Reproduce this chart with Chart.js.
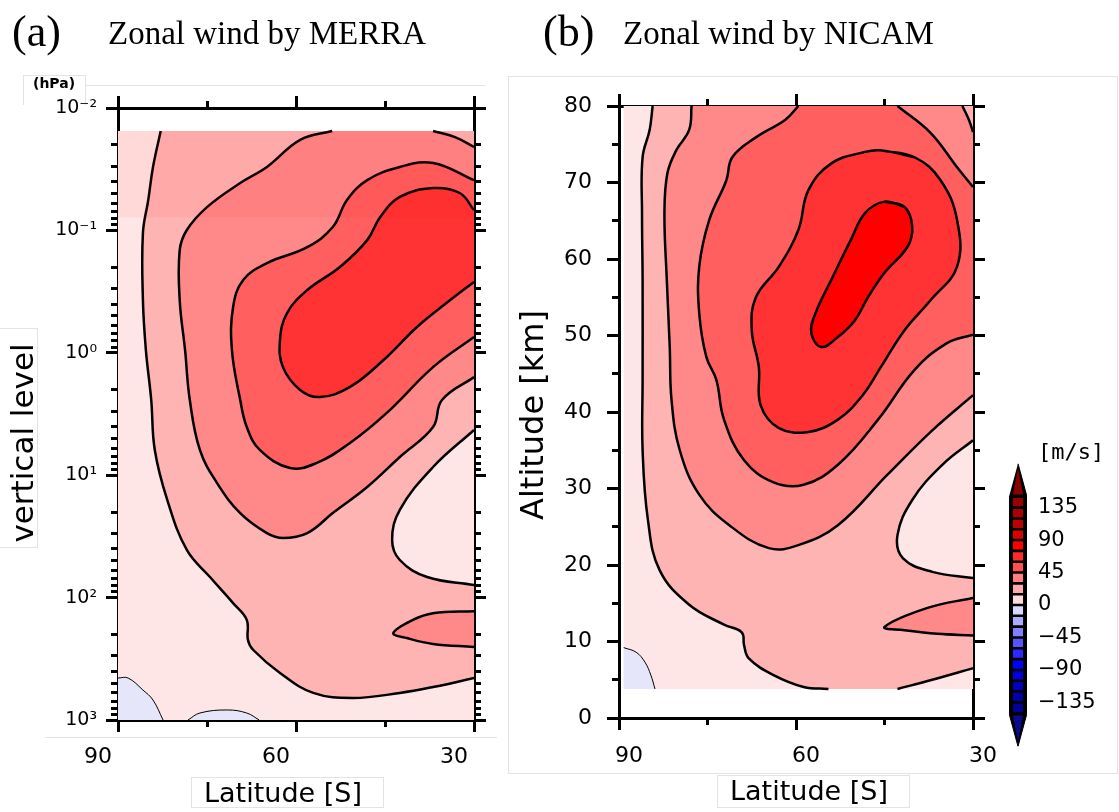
<!DOCTYPE html>
<html>
<head>
<meta charset="utf-8">
<script src="https://cdn.jsdelivr.net/npm/chart.js@4.4.0/dist/chart.umd.min.js"></script>
<style>
  body { margin: 0; background: #fff; }
  #page { position: relative; width: 1119px; height: 812px; overflow: hidden; background: #fff; }
  #page canvas, .t, .box { position: absolute; }
  .box { border: 1px solid #e3e3e3; box-sizing: border-box; }
  .t { color: #000; white-space: nowrap; }
  .serif { font-family: "Liberation Serif", serif; line-height: 1; }
  .sans { font-family: "DejaVu Sans", sans-serif; text-align: center; }
  .rot { transform: rotate(-90deg); }
</style>
</head>
<body>
<div id="page">
  <!-- faint frames left over from the figure collage -->
  <div class="box" style="left:508px;top:76px;width:610px;height:698px"></div>
  <div class="box" style="left:23px;top:75px;width:63px;height:30px;border-bottom:none"></div>
  <div class="box" style="left:85px;top:85px;width:400px;height:1px;border-width:1px 0 0 0"></div>
  <div class="box" style="left:-2px;top:328px;width:40px;height:220px"></div>
  <div class="box" style="left:45px;top:737px;width:452px;height:1px;border-width:1px 0 0 0"></div>
  <div class="box" style="left:191px;top:777px;width:193px;height:31px"></div>
  <div class="box" style="left:717px;top:775px;width:193px;height:33px"></div>

  <canvas id="merra" width="500" height="812" style="left:0;top:0"></canvas>
  <canvas id="nicam" width="500" height="812" style="left:500px;top:0"></canvas>
  <canvas id="cbar" width="119" height="330" style="left:1000px;top:440px"></canvas>

  <div class="t serif" style="left:12px;top:10px;font-size:44px">(a)</div>
  <div class="t serif" style="left:108px;top:17px;font-size:33px">Zonal wind by MERRA</div>
  <div class="t serif" style="left:543px;top:10px;font-size:44px">(b)</div>
  <div class="t serif" style="left:623px;top:17px;font-size:33px">Zonal wind by NICAM</div>
  <div class="t" style="left:33px;top:76px;font:bold 14px 'DejaVu Sans';line-height:14px">(hPa)</div>
  <div class="t sans rot" style="left:-108px;top:425px;width:260px;height:36px;line-height:36px;font-size:31px">vertical level</div>
  <div class="t sans rot" style="left:402px;top:397px;width:260px;height:36px;line-height:36px;font-size:32px">Altitude [km]</div>
  <div class="t sans" style="left:183px;top:777px;width:200px;line-height:32px;font-size:27px">Latitude [S]</div>
  <div class="t sans" style="left:709px;top:775px;width:200px;line-height:32px;font-size:27px">Latitude [S]</div>
  <div class="t" style="left:1038px;top:441px;font:22px 'DejaVu Sans Mono';line-height:22px">[m/s]</div>
</div>

<script>
// ---------- axes ----------
var latTicks = [90, 60, 30];
var latMinorTicks = [75, 45];
var latLabels = ['90', '60', '30'];

var presTicks = [0.01, 0.1, 1, 10, 100, 1000];
var presLabels = ['10⁻²', '10⁻¹', '10⁰', '10¹', '10²', '10³'];
var presMinorTicks = [];
presTicks.slice(0, -1).forEach(function (d) {
    for (var k = 2; k <= 9; k++) presMinorTicks.push(d * k);
});

var altTicks = [0, 10, 20, 30, 40, 50, 60, 70, 80];
var altMinorTicks = [5, 15, 25, 35, 45, 55, 65, 75];
var altLabels = ['0', '10', '20', '30', '40', '50', '60', '70', '80'];

// ---------- colour scale ----------
var windColors = ['#ffe6e6', '#ffb4b4', '#ff8888', '#ff5f5f', '#ff3333', '#ff0000'];
var negColor = '#e6e6fa';
var cbLevels = [-150, -135, -120, -105, -90, -75, -60, -45, -30, -15, 0, 15, 30, 45, 60, 75, 90, 105, 120, 135, 150];
var cbColors = ['#000099', '#0000aa', '#0000bb', '#0000dd', '#0000ff', '#2a2aff', '#5555ff', '#8080ff', '#aaaaff', '#d8d8ff',
                '#ffdcdc', '#ffaaaa', '#ff8080', '#ff5050', '#ff2a2a', '#ff0000', '#dd0000', '#bb0000', '#aa0000', '#990000'];
var cbTicks = [-135, -90, -45, 0, 45, 90, 135];
var cbLabels = ['−135', '−90', '−45', '0', '45', '90', '135'];
var cbEndColors = ['#0a0a90', '#8b0000'];

// ---------- MERRA contours [latitude S, hPa] ----------
var merraTop = 0.0154, merraBottom = 1000, merraBand = 0.078;
var merra15 = [[82.8, 0.0154], [84.1, 0.0303], [84.9, 0.0565], [85.8, 0.105], [85.8, 0.371], [85.3, 0.95], [84.4, 2.43],
               [83.8, 6.22], [81.7, 15.9], [78.4, 40.8], [74.5, 67.9], [70.6, 111], [68.3, 152], [68.1, 222], [67.2, 268],
               [62.7, 413], [57.1, 601], [50.4, 661], [42.5, 601], [36.9, 538], [30, 454]];
var merraHole15 = [[30, 4.27], [36.9, 8.57], [42.5, 19.2], [43.8, 33.8], [42.5, 49.3], [37.9, 67.9], [30, 78.9]];
var merraTongue30 = [[30, 129], [36.9, 134], [40.3, 152], [43.6, 195], [41.3, 214], [36.9, 239], [30, 253]];
var merra30 = [[53.9, 0.0154], [59.3, 0.0182], [64.9, 0.0303], [69.4, 0.041], [75.0, 0.0645], [78.4, 0.0993], [79.6, 0.145],
               [79.6, 0.371], [78.7, 0.948], [77.9, 2.43], [76.2, 6.22], [73.3, 11.6], [69.4, 20.4], [64.9, 29.7], [62.2, 32.6],
               [58.1, 29.7], [53.8, 20.4], [48.0, 12.5], [42.5, 7.1], [36.9, 4.04], [35.4, 2.43], [30, 1.58]];
var merra30Corner = [[36.9, 0.0154], [33.2, 0.0173], [30, 0.0208]];
var merra45 = [[30, 0.0388], [36.9, 0.0281], [42.5, 0.0303], [48.0, 0.0388], [51.4, 0.0565], [53.8, 0.0938], [58.1, 0.137],
               [64.9, 0.185], [68.9, 0.254], [70.6, 0.423], [70.8, 0.948], [69.4, 2.43], [68.3, 4.04], [66.1, 6.22], [61.0, 8.73],
               [56.5, 7.94], [50.9, 5.46], [44.7, 3.1], [36.9, 1.31], [30, 0.743]];
var merra60 = [[30, 0.0682], [32.4, 0.0495], [36.9, 0.0451], [42.5, 0.0533], [45.8, 0.0778], [48.0, 0.12], [52.6, 0.199],
               [58.1, 0.307], [61.5, 0.473], [62.7, 0.786], [62.2, 1.31], [59.3, 2.01], [56.0, 2.3], [50.9, 1.9], [45.3, 1.15],
               [39.6, 0.615], [34.0, 0.371], [30, 0.264]];
var merraNeg1 = [[90, 454], [88.3, 454], [85.8, 569], [84.1, 687], [82.4, 1000]];
var merraNeg2 = [[78.2, 1000], [76.2, 877], [71.6, 828], [68.3, 877], [66.2, 1000]];

// ---------- NICAM contours [latitude S, km] ----------
var nicamWest = 89.2, nicamTop = 80, nicamBottom = 3.8;
var nicam15 = [[84.3, 80], [84.8, 76.9], [86.0, 73.3], [86.1, 66.0], [86.0, 57.3], [86.0, 44.2], [86.0, 35.0], [85.1, 25.9],
               [83.1, 19.3], [78.1, 14.8], [72.2, 12.2], [69.2, 11.2], [68.8, 9.5], [68.0, 7.8], [63.8, 5.6], [58.7, 4.05], [54.5, 3.8]];
var nicam15East = [[42.8, 3.8], [36.9, 5.0], [30, 6.5]];
var nicamHole15 = [[30, 36.3], [35.2, 33.1], [40.3, 28.5], [42.8, 23.9], [41.9, 20.9], [36.9, 19.1], [30, 18.3]];
var nicamTongue30 = [[30, 15.7], [37.7, 14.4], [45.0, 11.9], [41.9, 11.5], [36.1, 11.0], [30, 10.8]];
var nicam30 = [[77.7, 80], [78.1, 76.9], [80.3, 74.2], [81.8, 71.2], [82.3, 66.0], [81.9, 57.3], [81.4, 48.5], [81.1, 41.6],
               [79.7, 35.0], [76.4, 29.2], [71.3, 25.2], [64.6, 22.2], [59.6, 22.6], [52.9, 25.2], [44.5, 31.8], [36.9, 37.6], [30, 42.2]];
var nicam30Corner = [[31.8, 80], [30.7, 78.2], [30, 76.6]];
var nicam45 = [[59.6, 80], [61.8, 78.2], [66.8, 75.9], [70.8, 73.3], [71.8, 70.3], [74.7, 65.1], [76.4, 59.0], [76.4, 52.9],
               [75.2, 47.2], [73.5, 44.2], [72.2, 39.0], [68.8, 33.7], [63.8, 30.8], [58.7, 30.5], [52.9, 33.1], [46.1, 39.0],
               [39.9, 45.5], [34.4, 49.0], [30, 50.1]];
var nicam45Corner = [[42.8, 80], [37.2, 76.5], [32.7, 72.0], [30, 69.4]];
var nicam60 = [[45.6, 74.2], [39.9, 73.3], [35.5, 70.3], [32.7, 65.1], [32.7, 59.0], [37.2, 54.6], [41.6, 50.7], [45.6, 45.9],
               [48.7, 42.2], [52.9, 39.0], [57.9, 37.4], [62.9, 37.9], [66.0, 40.9], [66.3, 45.9], [67.5, 50.7], [66.8, 55.0],
               [62.9, 59.0], [59.6, 63.8], [57.9, 69.0], [54.0, 72.5], [48.3, 74.0]];
var nicam75 = [[45.0, 67.5], [41.6, 66.8], [40.3, 64.2], [41.1, 61.6], [45.0, 58.2], [47.8, 55.0], [50.0, 52.0], [52.9, 49.8],
               [55.7, 48.5], [57.4, 50.3], [56.7, 52.9], [54.0, 57.3], [50.7, 62.5], [48.3, 66.0]];
var nicamNeg = [[89.2, 9.2], [87.1, 8.6], [85.6, 7.3], [84.6, 5.6], [83.9, 3.8]];

// ---------- helpers ----------
Chart.defaults.font.family = 'DejaVu Sans';

function pts(arr) {
    return arr.map(function (p) { return {x: p[0], y: p[1]}; });
}
function rev(arr) { return arr.slice().reverse(); }

// closed outline from contour pieces and edge corners; end points are doubled
// so the spline runs straight along the plot edges
function shape() {
    var out = [];
    for (var i = 0; i < arguments.length; i++) {
        var part = arguments[i];
        out.push(part[0]);
        part.forEach(function (p) { out.push(p); });
        out.push(part[part.length - 1]);
    }
    return pts(out);
}
function loop(arr) { return pts(arr.concat([arr[0], arr[1]])); }

function area(data, color) {
    return {data: data, backgroundColor: color, borderWidth: 0, fill: 'shape',
            showLine: true, tension: 0.4, pointRadius: 0};
}
function contour(data, width) {
    return {data: data, borderColor: '#000', borderWidth: width || 2.5, fill: false,
            showLine: true, tension: 0.4, pointRadius: 0};
}

function axisCfg(position, range, values, minor, size, lab) {
    var horiz = position === 'top' || position === 'bottom';
    return Object.assign({}, range, {
        position: position,
        weight: minor ? 0 : 1,
        afterBuildTicks: function (s) { s.ticks = values.map(function (v) { return {value: v}; }); },
        afterFit: function (s) { if (horiz) s.height = size; else s.width = size; },
        grid: {drawOnChartArea: false, tickLength: minor ? 7 : 12, tickWidth: 3, tickColor: '#000', lineWidth: 3, color: '#000'},
        border: {display: !minor, width: 3, color: '#000'},
        ticks: lab ? {
            autoSkip: false, maxRotation: 0, color: '#000',
            font: {family: 'DejaVu Sans', size: lab.size},
            padding: lab.pad, labelOffset: lab.offset || 0,
            callback: function (v, i) { return lab.labels[i]; }
        } : {display: false}
    });
}

function frame(c) {
    var xs = {type: 'linear', min: 30, max: 90, reverse: true};
    var ys = {type: c.yType, min: c.yMin, max: c.yMax, reverse: c.yRev};
    return {
        x: axisCfg('bottom', xs, latTicks, false, c.bottom, {labels: latLabels, size: 22, pad: c.xPad, offset: c.xOffset}),
        xMinor: axisCfg('bottom', xs, latMinorTicks, true, 0),
        xTop: axisCfg('top', xs, latTicks, false, c.top),
        xTopMinor: axisCfg('top', xs, latMinorTicks, true, 0),
        y: axisCfg('left', ys, c.yTicks, false, c.left, {labels: c.yLabels, size: c.yFont, pad: c.yPad}),
        yMinor: axisCfg('left', ys, c.yMinor, true, 0),
        yRight: axisCfg('right', ys, c.yTicks, false, c.right),
        yRightMinor: axisCfg('right', ys, c.yMinor, true, 0)
    };
}

function drawPanel(id, layers, scales) {
    // later layers go on top
    layers.forEach(function (d, i) { d.order = layers.length - i; });
    return new Chart(document.getElementById(id), {
        type: 'scatter',
        data: {datasets: layers},
        options: {
            responsive: false, animation: false, events: [],
            layout: {padding: 0},
            plugins: {legend: {display: false}, tooltip: {enabled: false}},
            scales: scales
        }
    });
}

// ---------- (a) MERRA ----------
drawPanel('merra', [
    area(shape([[90, merraTop]], [[30, merraTop]], [[30, merraBottom]], [[90, merraBottom]]), windColors[0]),
    area(shape(merraNeg1, [[90, merraBottom]]), negColor),
    area(shape(merraNeg2), negColor),
    area(shape(merra15, rev(merraHole15), [[30, merraTop]]), windColors[1]),
    area(shape(merra30, rev(merra30Corner)), windColors[2]),
    area(shape(merraTongue30), windColors[2]),
    area(shape(merra45), windColors[3]),
    area(shape(merra60), windColors[4]),
    contour(pts(merra15)), contour(pts(merraHole15)), contour(pts(merra30)), contour(pts(merra30Corner)),
    contour(pts(merraTongue30)), contour(pts(merra45)), contour(pts(merra60)),
    contour(pts(merraNeg1), 1), contour(pts(merraNeg2), 1),
    area(shape([[90, merraTop]], [[30, merraTop]], [[30, merraBand]], [[90, merraBand]]), 'rgba(255,0,0,0.06)')
], frame({
    yType: 'logarithmic', yMin: 0.01, yMax: 1000, yRev: true,
    yTicks: presTicks, yMinor: presMinorTicks, yLabels: presLabels, yFont: 19, yPad: 9,
    xOffset: -20, xPad: 12, left: 118, right: 26, top: 108, bottom: 92
}));

// ---------- (b) NICAM ----------
drawPanel('nicam', [
    area(shape([[nicamWest, nicamTop]], [[30, nicamTop]], [[30, nicamBottom]], [[nicamWest, nicamBottom]]), windColors[0]),
    area(shape(nicamNeg, [[nicamWest, nicamBottom]]), negColor),
    area(shape(nicam15, nicam15East, rev(nicamHole15), [[30, nicamTop]]), windColors[1]),
    area(shape(nicam30, rev(nicam30Corner)), windColors[2]),
    area(shape(nicamTongue30), windColors[2]),
    area(shape(nicam45, rev(nicam45Corner)), windColors[3]),
    area(loop(nicam60), windColors[4]),
    area(loop(nicam75), windColors[5]),
    contour(pts(nicam15)), contour(pts(nicam15East)), contour(pts(nicamHole15)), contour(pts(nicamTongue30)),
    contour(pts(nicam30)), contour(pts(nicam30Corner)), contour(pts(nicam45)), contour(pts(nicam45Corner)),
    contour(loop(nicam60)), contour(loop(nicam75)),
    contour(pts(nicamNeg), 1)
], frame({
    yType: 'linear', yMin: 0, yMax: 80, yRev: false,
    yTicks: altTicks, yMinor: altMinorTicks, yLabels: altLabels, yFont: 22, yPad: 15,
    xOffset: 10, xPad: 13, left: 119, right: 24, top: 106, bottom: 94
}));

// ---------- colour bar ----------
var cbTop = cbLevels[cbLevels.length - 1], cbBottom = cbLevels[0];
var cbSets = [];
cbSets.push({data: pts([[0.5, cbTop + 46], [1, cbTop], [1, cbBottom], [0.5, cbBottom - 46], [0, cbBottom], [0, cbTop]]),
             backgroundColor: '#000', borderColor: '#000', borderWidth: 1, fill: 'shape', showLine: true, tension: 0, pointRadius: 0});
cbSets.push({data: pts([[0.5, cbTop + 39], [0.78, cbTop + 3], [0.22, cbTop + 3]]),
             backgroundColor: cbEndColors[1], borderWidth: 0, fill: 'shape', showLine: true, tension: 0, pointRadius: 0});
cbSets.push({data: pts([[0.5, cbBottom - 39], [0.78, cbBottom - 3], [0.22, cbBottom - 3]]),
             backgroundColor: cbEndColors[0], borderWidth: 0, fill: 'shape', showLine: true, tension: 0, pointRadius: 0});
cbColors.forEach(function (col, i) {
    var lo = cbLevels[i] + 1.8, hi = cbLevels[i + 1] - 1.8;
    cbSets.push({data: pts([[0.22, lo], [0.78, lo], [0.78, hi], [0.22, hi]]),
                 backgroundColor: col, borderWidth: 0, fill: 'shape', showLine: true, tension: 0, pointRadius: 0});
});
cbSets.forEach(function (d, i) { d.order = cbSets.length - i; });

new Chart(document.getElementById('cbar'), {
    type: 'scatter',
    data: {datasets: cbSets},
    options: {
        responsive: false, animation: false, events: [],
        layout: {padding: {left: 9, top: 20, bottom: 17, right: 0}},
        plugins: {legend: {display: false}, tooltip: {enabled: false}},
        scales: {
            x: {type: 'linear', min: 0, max: 1, display: false},
            y: {
                type: 'linear', position: 'right', min: -196, max: 196,
                afterBuildTicks: function (s) { s.ticks = cbTicks.map(function (v) { return {value: v}; }); },
                afterFit: function (s) { s.width = 92; },
                grid: {display: false, drawTicks: false},
                border: {display: false},
                ticks: {padding: 11, color: '#000', font: {family: 'DejaVu Sans', size: 21},
                        callback: function (v, i) { return cbLabels[i]; }}
            }
        }
    }
});
</script>
</body>
</html>
